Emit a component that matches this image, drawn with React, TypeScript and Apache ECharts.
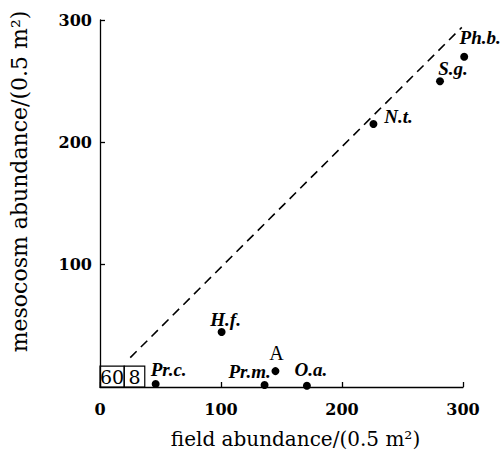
import React, { useEffect, useRef } from "react";
import * as echarts from "echarts";

const species = ["Pr.c.", "H.f.", "Pr.m.", "A", "O.a.", "N.t.", "S.g.", "Ph.b."];
const fieldAbundance = [46, 100.5, 136, 145, 171, 226, 281, 301];
const mesocosmAbundance = [2.5, 45, 1.6, 13, 1, 215, 250, 270];
const referenceLineX = [25, 299];
const referenceLineY = [24, 294];
const boxLabels = ["60", "8"];
const boxEdgesX = [0, 20, 37];
const boxTopY = 17;
const axisMin = 0;
const axisMax = 300;
const axisInterval = 100;

const labelOffsets: Record<string, [number, number]> = {
  "Pr.c.": [13, -14],
  "H.f.": [4, -12],
  "Pr.m.": [-15, -14],
  A: [1, -18],
  "O.a.": [4, -16],
  "N.t.": [25, -7],
  "S.g.": [13, -13],
  "Ph.b.": [16, -19],
};

const serif = "DejaVu Serif";

export default function App() {
  const ref = useRef<HTMLDivElement>(null);
  useEffect(() => {
    document.body.style.margin = "0";
    const chart = echarts.init(ref.current!, undefined, { renderer: "svg" });
    const points = species.map((name, i) => {
      const upright = name === "A";
      return {
        name,
        value: [fieldAbundance[i], mesocosmAbundance[i]],
        label: {
          show: true,
          position: "inside",
          offset: labelOffsets[name],
          formatter: name,
          color: "#000",
          fontFamily: "Liberation Serif",
          fontStyle: upright ? "normal" : "italic",
          fontWeight: upright ? "normal" : "bold",
          fontSize: upright ? 20 : 19,
        },
      };
    });
    const boxes = boxLabels.map((lab, i) => [
      {
        coord: [boxEdgesX[i], 0],
        name: lab,
      },
      { coord: [boxEdgesX[i + 1], boxTopY] },
    ]);
    const tickFont = {
      color: "#000",
      fontFamily: serif,
      fontWeight: "bold" as const,
      fontSize: 16,
    };
    chart.setOption({
      animation: false,
      grid: { left: 99, right: 38, top: 20, bottom: 72 },
      xAxis: {
        type: "value",
        min: axisMin,
        max: axisMax,
        interval: axisInterval,
        name: "field abundance/(0.5 m²)",
        nameLocation: "middle",
        nameGap: 42,
        nameTextStyle: {
          color: "#000",
          fontFamily: serif,
          fontSize: 20,
          padding: [0, 0, 0, 28],
        },
        axisLine: { show: true, lineStyle: { color: "#000", width: 1.3 } },
        axisTick: { show: true, inside: true, length: 5, lineStyle: { color: "#000", width: 1.3 } },
        splitLine: { show: false },
        axisLabel: { ...tickFont, margin: 14 },
      },
      yAxis: {
        type: "value",
        min: axisMin,
        max: axisMax,
        interval: axisInterval,
        name: "mesocosm abundance/(0.5 m²)",
        nameLocation: "middle",
        nameGap: 70,
        nameTextStyle: {
          color: "#000",
          fontFamily: serif,
          fontSize: 22,
          padding: [0, 0, 0, 44],
        },
        axisLine: { show: true, lineStyle: { color: "#000", width: 1.3 } },
        axisTick: { show: true, inside: true, length: 5, lineStyle: { color: "#000", width: 1.3 } },
        splitLine: { show: false },
        axisLabel: { ...tickFont, margin: 8, showMinLabel: false },
      },
      series: [
        {
          type: "line",
          data: [
            [referenceLineX[0], referenceLineY[0]],
            [referenceLineX[1], referenceLineY[1]],
          ],
          symbol: "none",
          silent: true,
          lineStyle: { color: "#000", width: 1.6, type: [9, 6] },
        },
        {
          type: "scatter",
          clip: false,
          data: points,
          symbol: "circle",
          symbolSize: 8,
          itemStyle: { color: "#000", opacity: 1 },
          markArea: {
            silent: true,
            itemStyle: { color: "rgba(0,0,0,0)", borderColor: "#000", borderWidth: 1.2 },
            label: {
              show: true,
              position: "inside",
              color: "#000",
              fontFamily: serif,
              fontSize: 19,
            },
            data: boxes,
          },
        },
      ],
    });
    return () => chart.dispose();
  }, []);
  return <div ref={ref} style={{ width: 501, height: 459 }} />;
}
